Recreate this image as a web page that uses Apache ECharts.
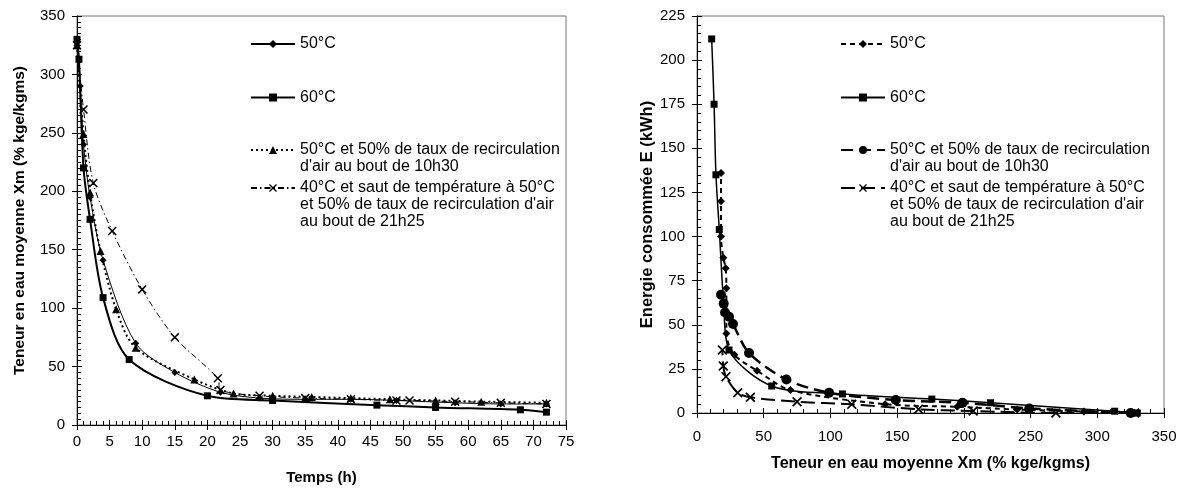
<!DOCTYPE html>
<html lang="fr">
<head>
<meta charset="UTF-8">
<title>Séchage</title>
<script src="https://cdn.jsdelivr.net/npm/echarts@6/dist/echarts.min.js"></script>
<style>
	html, body { margin: 0; padding: 0; background: #fff; }
	#view { width: 1182px; height: 490px; }
</style>
</head>
<body>
<div id="view"></div>
<script>
	// courbe de séchage : temps (h) / teneur en eau Xm
	var t50 = [0, 0.5, 1, 2, 4, 9, 15, 22, 28, 35, 42, 49, 58, 65, 72];
	var x50 = [325, 290, 240, 195, 141, 70, 45, 28, 23, 22, 22, 21, 19, 18, 18];
	var t60 = [0, 0.3, 1, 2, 4, 8, 20, 30, 46, 55, 68, 72];
	var x60 = [330, 313, 220, 176, 109, 56, 25, 21, 17, 15, 13, 11];
	var tRec = [0, 1, 2, 3.6, 6, 9, 18, 24, 30, 36, 42, 48, 55, 62, 72];
	var xRec = [325, 249, 199, 149, 99, 66, 39, 27, 25, 24, 23, 22, 21, 20, 19];
	var t40 = [0, 1, 2.5, 5.4, 10, 15, 21.6, 22, 28, 35, 42, 49, 51, 58, 65, 72];
	var x40 = [325, 270, 207, 166, 116, 75, 40, 30, 25, 23, 22, 21, 21, 20, 19, 18];

	// énergie consommée E (kWh) / teneur en eau Xm
	var e50X = [328, 290, 240, 195, 141, 70, 45, 28, 22, 22, 21.5, 19.7, 18, 18, 18];
	var e50E = [0, 0.8, 2, 3.5, 5, 13, 24, 33, 45, 70.7, 82, 88, 100, 120, 136];
	var e60X = [330, 313, 220, 176, 109, 56, 24, 20, 16.7, 14.2, 12.8, 11];
	var e60E = [0, 1, 5.8, 7.9, 10.8, 15.3, 35.7, 62, 104, 135, 175, 212];
	var eRecX = [325, 249, 199, 149, 99, 67, 39, 27, 24, 21, 20, 18];
	var eRecE = [0, 2.6, 5.8, 7.4, 11.5, 19, 34, 50.4, 54.6, 57, 62, 67];
	var e40X = [328, 269, 207, 166, 116, 75, 40, 30.5, 21.7, 19.7, 19];
	var e40E = [0, 0, 1.1, 2.1, 4.9, 6.4, 8.9, 11.5, 20.6, 26.6, 35.7];

	var noms = ['50°C', '60°C',
		'50°C et 50% de taux de recirculation\nd\'air au bout de 10h30',
		'40°C et saut de température à 50°C\net 50% de taux de recirculation d\'air\nau bout de 21h25'];
	// même texte pour le graphique de droite, mais un nom distinct (espace final)
	var nomsD = noms.map(function (n) { return n + ' '; });

	var croix = 'path://M0,1.2 L1.2,0 L5,3.8 L8.8,0 L10,1.2 L6.2,5 L10,8.8 L8.8,10 L5,6.2 L1.2,10 L0,8.8 L3.8,5 Z';
	var police = 'Liberation Sans';

	function paires(a, b) {
		return a.map(function (v, i) { return [v, b[i]]; });
	}

	var view = document.getElementById('view');
	var mychart = echarts.init(view);

	function axeX(grid, max, interval, minor, name, gap, margin, fs) {
		return [{
			type: 'value', gridIndex: grid, min: 0, max: max, interval: interval,
			name: name, nameLocation: 'middle', nameGap: gap,
			nameTextStyle: { fontFamily: police, fontSize: fs, fontWeight: 'bold', color: '#000' },
			axisLine: { lineStyle: { color: '#000', width: 1 } },
			axisTick: { length: 5, lineStyle: { color: '#000' } },
			axisLabel: { fontFamily: police, fontSize: 15, color: '#000', margin: margin },
			splitLine: { show: false }
		}, {
			type: 'value', gridIndex: grid, min: 0, max: max, interval: interval, position: 'bottom',
			axisLine: { show: false },
			axisTick: { inside: true, length: 5, lineStyle: { color: '#000' } },
			minorTick: { show: true, splitNumber: minor, length: 4, lineStyle: { color: '#000' } },
			axisLabel: { show: false },
			splitLine: { show: false }
		}];
	}

	function axeY(grid, max, interval, minor, name, gap, fs) {
		return [{
			type: 'value', gridIndex: grid, min: 0, max: max, interval: interval,
			name: name, nameLocation: 'middle', nameGap: gap, position: 'left',
			nameTextStyle: { fontFamily: police, fontSize: fs, fontWeight: 'bold', color: '#000' },
			axisLine: { show: true, lineStyle: { color: '#000', width: 1 } },
			axisTick: { show: true, length: 5, lineStyle: { color: '#000' } },
			axisLabel: { fontFamily: police, fontSize: 15, color: '#000', margin: 12 },
			splitLine: { show: false }
		}, {
			type: 'value', gridIndex: grid, min: 0, max: max, interval: interval, position: 'left',
			axisLine: { show: false },
			axisTick: { show: true, inside: true, length: 5, lineStyle: { color: '#000' } },
			minorTick: { show: true, splitNumber: minor, length: 4, lineStyle: { color: '#000' } },
			axisLabel: { show: false },
			splitLine: { show: false }
		}];
	}

	// une légende par élément ; lignes vides en tête pour aligner le symbole sur la 1re ligne
	var hauts = [35.5, 89, 124.5, 145.5];
	function legendes(liste, gauche) {
		return liste.map(function (n, i) {
			var nb = n.trim().split('\n').length;
			return {
				data: [{ name: n }],
				left: gauche, top: hauts[i], padding: 0,
				orient: 'vertical', itemWidth: 44, itemHeight: 10,
				selectedMode: false,
				formatter: function (nom) {
					return new Array(nb).join('\n') + nom.trim();
				},
				textStyle: { fontFamily: police, fontSize: 16, color: '#000', lineHeight: 17 }
			};
		});
	}

	function serie(nom, data, grid, ls, sym, size) {
		return {
			name: nom, type: 'line', data: data,
			xAxisIndex: grid * 2, yAxisIndex: grid * 2,
			smooth: 0.3, symbol: sym, symbolSize: size,
			lineStyle: { color: '#000', width: ls.width, type: ls.type },
			itemStyle: { color: '#000' },
			z: 3
		};
	}

	var option = {
		backgroundColor: '#fff',
		animation: false,
		grid: [
			{ left: 77, top: 16, width: 489, height: 409, show: true, borderColor: '#777', borderWidth: 1 },
			{ left: 697, top: 16, width: 467, height: 397, show: true, borderColor: '#777', borderWidth: 1 }
		],
		xAxis: axeX(0, 75, 5, 5, 'Temps (h)', 45, 9, 15).concat(
			axeX(1, 350, 50, 5, 'Teneur en eau moyenne Xm (% kge/kgms)', 43, 16, 16)),
		yAxis: axeY(0, 350, 50, 10, 'Teneur en eau moyenne Xm (% kge/kgms)', 49, 15.5).concat(
			axeY(1, 225, 25, 5, 'Energie consommée E (kWh)', 38, 16.5)),
		legend: legendes(noms, 250).concat(legendes(nomsD, 840)),
		series: [
			serie(noms[0], paires(t50, x50), 0, { width: 1, type: 'solid' }, 'diamond', 7),
			serie(noms[1], paires(t60, x60), 0, { width: 2, type: 'solid' }, 'rect', 7),
			serie(noms[2], paires(tRec, xRec), 0, { width: 2, type: [2, 3] }, 'triangle', 8),
			serie(noms[3], paires(t40, x40), 0, { width: 1, type: [6, 3, 1.5, 3] }, croix, 9),
			serie(nomsD[0], paires(e50X, e50E), 1, { width: 2, type: [5, 4] }, 'diamond', 8),
			serie(nomsD[1], paires(e60X, e60E), 1, { width: 1.5, type: 'solid' }, 'rect', 7),
			serie(nomsD[2], paires(eRecX, eRecE), 1, { width: 2.5, type: [12, 6] }, 'circle', 10),
			serie(nomsD[3], paires(e40X, e40E), 1, { width: 2, type: [14, 6] }, croix, 10)
		]
	};

	mychart.setOption(option);
</script>
</body>
</html>
